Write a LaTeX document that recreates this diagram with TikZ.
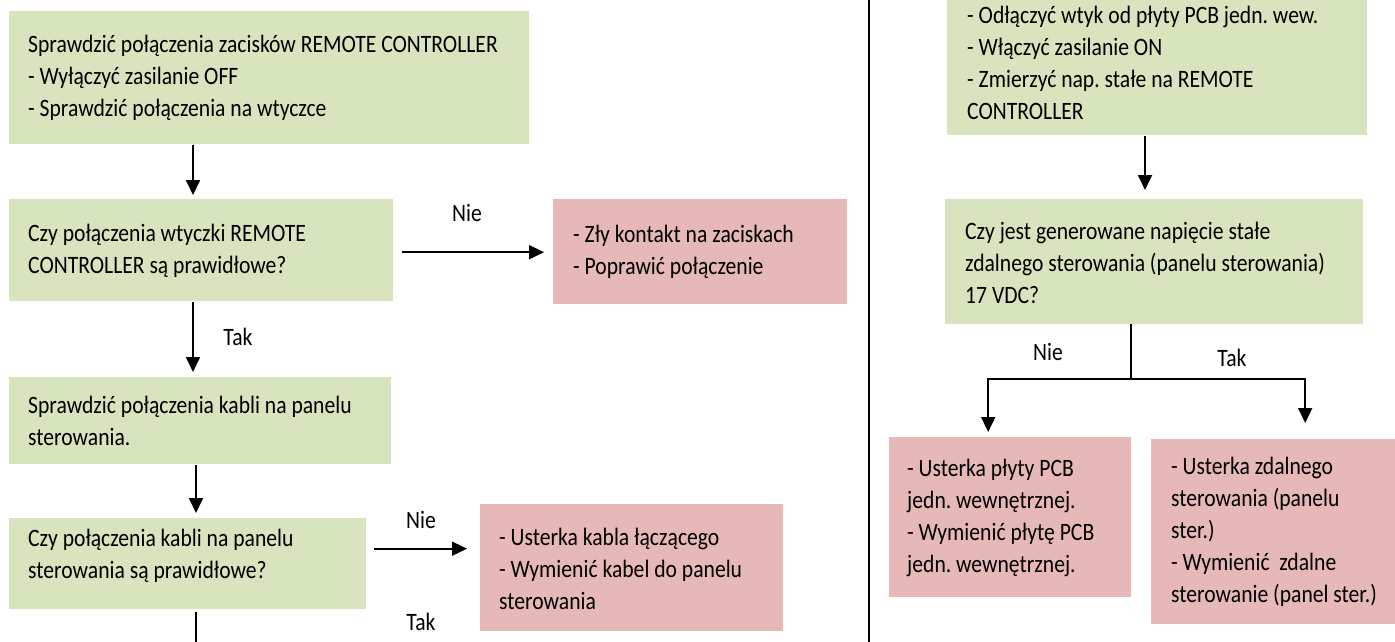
\documentclass[tikz,border=0pt]{standalone}
\usepackage{fontspec}
\setmainfont[FakeStretch=0.865]{Carlito}
\usetikzlibrary{arrows.meta,calc}
\definecolor{gfill}{HTML}{D7E4BD}
\definecolor{rfill}{HTML}{E6B8B7}
\frenchspacing
\begin{document}
\begin{tikzpicture}[x=1pt,y=-1pt,
  box/.style={rectangle,draw=none,anchor=north west,inner sep=0pt},
  gbox/.style={box,fill=gfill},
  rbox/.style={box,fill=rfill},
  txt/.style={anchor=west,align=left,inner sep=0pt,font=\fontsize{25}{32}\selectfont\frenchspacing},
  lbl/.style={inner sep=0pt,font=\fontsize{25}{32}\selectfont},
  arr/.style={line width=1.8pt,-{Triangle[length=15pt,width=14pt]}},
  ln/.style={line width=1.8pt}]
\useasboundingbox (0,0) rectangle (1395,642);
\clip (0,0) rectangle (1395,642);
% left column
\node[gbox,minimum width=520pt,minimum height=133pt] (b1) at (9,11) {};
\node[txt] (t1) at (28,78) {Sprawdzić połączenia zacisków REMOTE CONTROLLER\\- Wyłączyć zasilanie OFF\\- Sprawdzić połączenia na wtyczce};
\node[gbox,minimum width=384pt,minimum height=102pt] (b2) at (9,199) {};
\node[txt] (t2) at (28,251) {Czy połączenia wtyczki REMOTE\\CONTROLLER są prawidłowe?};
\node[rbox,minimum width=294pt,minimum height=105pt] (r1) at (553,199) {};
\node[txt] (tr1) at (573,252) {- Zły kontakt na zaciskach\\- Poprawić połączenie};
\node[gbox,minimum width=382pt,minimum height=87pt] (b3) at (9,377) {};
\node[txt] (t3) at (28,421) {Sprawdzić połączenia kabli na panelu\\sterowania.};
\node[gbox,minimum width=357pt,minimum height=91pt] (b4) at (9,518) {};
\node[txt] (t4) at (28,556) {Czy połączenia kabli na panelu\\sterowania są prawidłowe?};
\node[rbox,minimum width=303pt,minimum height=127pt] (r2) at (480,504) {};
\node[txt] (tr2) at (499,569) {- Usterka kabla łączącego\\- Wymienić kabel do panelu\\sterowania};
\node[lbl] (nie1) at (467,213) {Nie};
\node[lbl] (tak1) at (238,337) {Tak};
\node[lbl] (nie2) at (421,520) {Nie};
\node[lbl] (tak2) at (421,622) {Tak};
\draw[arr] ([xshift=184pt,yshift=-1pt]b1.south west) -- ([xshift=184pt,yshift=4pt]b2.north west);
\draw[arr] ($(b2.east)+(9,2)$) -- ($(b2.east -| r1.west)+(-9,2)$);
\draw[arr] ([xshift=184pt,yshift=-1pt]b2.south west) -- ([xshift=184pt,yshift=5pt]b3.north west);
\draw[arr] ([xshift=187pt,yshift=-1pt]b3.south west) -- ([xshift=187pt,yshift=5pt]b4.north west);
\draw[arr] ($(b4.east)+(8,-15)$) -- ($(b4.east -| r2.west)+(-13,-15)$);
\coordinate (bend) at (196,660);
\draw[ln] ([xshift=187pt,yshift=-3pt]b4.south west) -- (bend);
% divider
\coordinate (dtop) at (869,-5);
\coordinate (dbot) at (869,650);
\draw[ln] (dtop) -- (dbot);
% right column
\node[gbox,minimum width=420pt,minimum height=175pt] (R1) at (947,-40) {};
\node[txt] (tR1) at (967,63) {- Odłączyć wtyk od płyty PCB jedn. wew.\\- Włączyć zasilanie ON\\- Zmierzyć nap. stałe na REMOTE\\CONTROLLER};
\node[gbox,minimum width=418pt,minimum height=125pt] (R2) at (945,199) {};
\node[txt] (tR2) at (965,263) {Czy jest generowane napięcie stałe\\zdalnego sterowania (panelu sterowania)\\17 VDC?};
\node[rbox,minimum width=242pt,minimum height=160pt] (R3) at (889,437) {};
\node[txt] (tR3) at (907,518) {- Usterka płyty PCB\\jedn. wewnętrznej.\\- Wymienić płytę PCB\\jedn. wewnętrznej.};
\node[rbox,minimum width=249pt,minimum height=185pt] (R4) at (1151,439) {};
\node[txt] (tR4) at (1171,532) {- Usterka zdalnego\\sterowania (panelu\\ster.)\\- Wymienić\ \ zdalne\\sterowanie (panel ster.)};
\node[lbl] (nie3) at (1048,352) {Nie};
\node[lbl] (tak3) at (1232,358) {Tak};
\draw[arr] ([xshift=198pt,yshift=-1pt]R1.south west) -- ([xshift=200pt,yshift=9pt]R2.north west);
\coordinate (jn) at (1131,379);
\draw[ln] (R2.south -| jn) -- (jn);
\draw[arr] (jn) -| ($(R3.north)+(-22,-5)$);
\draw[arr] (jn) -| ($(R4.north)+(29.5,-16)$);
\end{tikzpicture}
\end{document}
